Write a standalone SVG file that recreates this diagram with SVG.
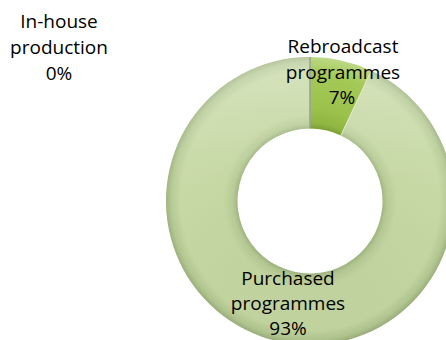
<svg xmlns="http://www.w3.org/2000/svg" width="446" height="340" viewBox="0 0 446 340">
<defs>
<radialGradient id="ringG" gradientUnits="userSpaceOnUse" cx="310" cy="201" r="144">
<stop offset="0.5" stop-color="#9cb27b"/>
<stop offset="0.535" stop-color="#b5c992"/>
<stop offset="0.6" stop-color="#c3d6a0"/>
<stop offset="0.9" stop-color="#c5d8a2"/>
<stop offset="0.965" stop-color="#b3c892"/>
<stop offset="1" stop-color="#9cb17c"/>
</radialGradient>
<radialGradient id="sliceG" gradientUnits="userSpaceOnUse" cx="310" cy="201" r="144">
<stop offset="0.5" stop-color="#7a9c34"/>
<stop offset="0.54" stop-color="#90b642"/>
<stop offset="0.65" stop-color="#9cc24c"/>
<stop offset="0.88" stop-color="#a4c956"/>
<stop offset="1" stop-color="#bcd985"/>
</radialGradient>
<linearGradient id="topLight" gradientUnits="userSpaceOnUse" x1="0" y1="57" x2="0" y2="345">
<stop offset="0" stop-color="#ffffff" stop-opacity="0.28"/>
<stop offset="0.45" stop-color="#ffffff" stop-opacity="0.04"/>
<stop offset="1" stop-color="#000000" stop-opacity="0.03"/>
</linearGradient>
</defs>
<style>
text{font-family:"Open Sans","DejaVu Sans",sans-serif;font-size:19px;fill:#000;text-anchor:middle}
</style>
<g id="ring-purchased">
<path d="M371.3,70.7 A144,144 0 1 1 310,57 L310,128.5 A72.5,72.5 0 1 0 340.9,135.4 Z" fill="url(#ringG)"/>
<path d="M371.3,70.7 A144,144 0 1 1 310,57 L310,128.5 A72.5,72.5 0 1 0 340.9,135.4 Z" fill="url(#topLight)"/>
</g>
<g id="slice-rebroadcast">
<path d="M310,57 A144,144 0 0 1 371.3,70.7 L340.9,135.4 A72.5,72.5 0 0 0 310,128.5 Z" fill="url(#sliceG)"/>
<line x1="371.3" y1="70.7" x2="340.9" y2="135.4" stroke="#e2edcf" stroke-width="1"/>
</g>
<g id="slice-inhouse">
<line x1="310" y1="57" x2="310" y2="128.5" stroke="#9aa39a" stroke-width="1.6"/>
</g>
<g id="label-inhouse">
<text x="59" y="28">In-house</text>
<text x="59" y="54">production</text>
<text x="59" y="80">0%</text>
</g>
<g id="label-rebroadcast">
<text x="343" y="53">Rebroadcast</text>
<text x="343" y="79">programmes</text>
<text x="342" y="104">7%</text>
</g>
<g id="label-purchased">
<text x="288" y="285">Purchased</text>
<text x="288" y="310">programmes</text>
<text x="288" y="335">93%</text>
</g>
</svg>
